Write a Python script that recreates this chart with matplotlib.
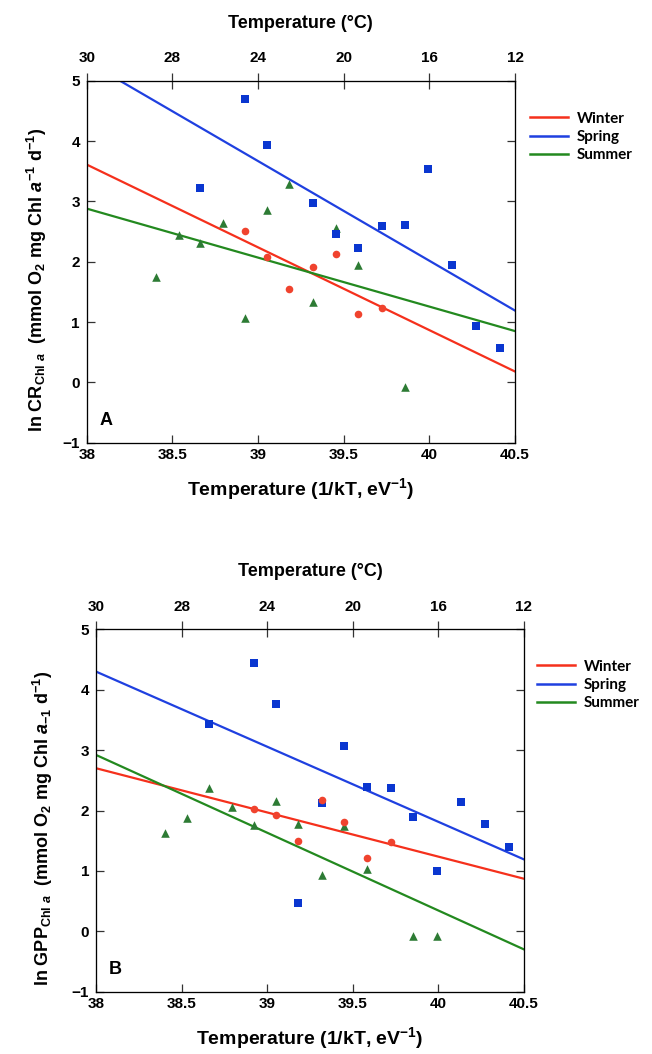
import matplotlib
matplotlib.use('Agg')
import matplotlib.pyplot as plt
from matplotlib.lines import Line2D

plt.rcParams['font.family'] = ['Liberation Sans', 'DejaVu Sans']
plt.rcParams['font.weight'] = 'bold'
plt.rcParams['axes.labelweight'] = 'bold'
plt.rcParams['mathtext.fontset'] = 'custom'
plt.rcParams['mathtext.rm'] = 'Liberation Sans:bold'
plt.rcParams['mathtext.it'] = 'Liberation Sans:italic:bold'
plt.rcParams['mathtext.bf'] = 'Liberation Sans:bold'

# ---- data ----
x_ticks = [38, 38.5, 39, 39.5, 40, 40.5]
x_tick_labels = ['38', '38.5', '39', '39.5', '40', '40.5']
temp_tick_labels = ['30', '28', '24', '20', '16', '12']
y_ticks = [-1, 0, 1, 2, 3, 4, 5]

# panel A (CR)
a_spring_x = [38.924, 39.051, 38.661, 39.323, 39.453, 39.586, 39.724, 39.856, 39.994, 40.132, 40.272, 40.412]
a_spring_y = [4.70, 3.93, 3.22, 2.98, 2.46, 2.22, 2.59, 2.61, 3.54, 1.95, 0.94, 0.57]
a_winter_x = [38.924, 39.051, 39.323, 39.453, 39.183, 39.586, 39.724]
a_winter_y = [2.51, 2.08, 1.91, 2.12, 1.55, 1.13, 1.24]
a_summer_x = [38.405, 38.537, 38.661, 38.794, 38.924, 39.051, 39.183, 39.323, 39.453, 39.586, 39.856]
a_summer_y = [1.74, 2.44, 2.31, 2.64, 1.06, 2.86, 3.29, 1.34, 2.56, 1.95, -0.08]
a_fit_x = [38.0, 40.5]
a_winter_fit = [3.61, 0.18]
a_spring_fit = [5.32, 1.19]
a_summer_fit = [2.88, 0.85]

# panel B (GPP)
b_spring_x = [38.922, 39.049, 38.661, 39.451, 39.321, 39.181, 39.584, 39.722, 39.852, 39.992, 40.132, 40.270, 40.410]
b_spring_y = [4.45, 3.76, 3.43, 3.07, 2.12, 0.47, 2.39, 2.38, 1.89, 1.00, 2.14, 1.77, 1.40]
b_winter_x = [38.922, 39.049, 39.181, 39.321, 39.451, 39.584, 39.722]
b_winter_y = [2.02, 1.93, 1.50, 2.18, 1.81, 1.22, 1.48]
b_summer_x = [38.405, 38.533, 38.661, 38.792, 38.922, 39.049, 39.181, 39.321, 39.451, 39.584, 39.852, 39.992]
b_summer_y = [1.63, 1.87, 2.38, 2.06, 1.76, 2.16, 1.77, 0.94, 1.74, 1.03, -0.07, -0.07]
b_fit_x = [38.0, 40.5]
b_winter_fit = [2.70, 0.87]
b_spring_fit = [4.30, 1.19]
b_summer_fit = [2.92, -0.30]

red_line, blue_line, green_line = '#f5301c', '#1f40e0', '#23891f'
red_pt, blue_pt, green_pt = '#f0432e', '#0a36d0', '#2d7b34'

W, H = 652, 1054
fig = plt.figure(figsize=(W / 100, H / 100), dpi=100)


def make_panel(rect, data, ylabel, letter, legend_xy, ylab_xy):
    ax = fig.add_axes(rect)
    (sx, sy, wx, wy, mx, my, fx, wfit, sfit, mfit) = data
    ax.plot(fx, wfit, color=red_line, lw=1.6, zorder=2)
    ax.plot(fx, sfit, color=blue_line, lw=1.6, zorder=2)
    ax.plot(fx, mfit, color=green_line, lw=1.6, zorder=2)
    ax.scatter(mx, my, marker='^', s=38, color=green_pt, lw=0, zorder=3)
    ax.scatter(sx, sy, marker='s', s=36, color=blue_pt, lw=0, zorder=4)
    ax.scatter(wx, wy, marker='o', s=30, color=red_pt, lw=0, zorder=5)
    ax.set_xlim(38, 40.5)
    ax.set_ylim(-1, 5)
    ax.set_xticks(x_ticks)
    ax.set_xticklabels(x_tick_labels)
    ax.set_yticks(y_ticks)
    ax.tick_params(axis='both', direction='in', length=6, width=0.9, colors='#333333',
                   labelcolor='black', labelsize=11, pad=5, right=True)
    ax.tick_params(axis='x', pad=4)
    for s in ax.spines.values():
        s.set_color('#333333')
        s.set_linewidth(0.9)
    ax.set_xlabel(r'Temperature (1/kT, eV$^{-1}$)', fontsize=14, labelpad=10)
    ax.set_ylabel(ylabel, fontsize=13)
    ax.yaxis.set_label_coords(*ylab_xy)
    ax.text(0.03, 0.05, letter, transform=ax.transAxes, fontsize=13, fontweight='bold')

    top = ax.twiny()
    top.set_xlim(ax.get_xlim())
    top.set_xticks(x_ticks)
    top.set_xticklabels(temp_tick_labels)
    top.tick_params(axis='x', direction='inout', length=12, width=0.9, colors='#333333',
                    labelcolor='black', labelsize=11, pad=5)
    top.set_xlabel('Temperature (°C)', fontsize=13, labelpad=17)

    handles = [Line2D([], [], color=red_line, lw=1.8),
               Line2D([], [], color=blue_line, lw=1.8),
               Line2D([], [], color=green_line, lw=1.8)]
    fig.legend(handles, ['Winter', 'Spring', 'Summer'], loc='upper left',
               bbox_to_anchor=legend_xy, frameon=False, handlelength=2.5,
               handletextpad=0.6, labelspacing=0.28, borderpad=0.2,
               prop={'family': 'Lato', 'weight': 'bold', 'size': 11})
    return ax


rect_a = [86.7 / W, 1 - 442.7 / H, 428.3 / W, 362 / H]
rect_b = [96 / W, 1 - 991.7 / H, 428 / W, 362.4 / H]

make_panel(rect_a,
           (a_spring_x, a_spring_y, a_winter_x, a_winter_y, a_summer_x, a_summer_y,
            a_fit_x, a_winter_fit, a_spring_fit, a_summer_fit),
           r'ln CR$_{\mathregular{Chl}\ \mathit{a}}$  (mmol O$_2$ mg Chl $\mathit{a}^{-1}$ d$^{-1}$)',
           'A', (519 / W, 1 - 101 / H), (-0.088, 0.45))
make_panel(rect_b,
           (b_spring_x, b_spring_y, b_winter_x, b_winter_y, b_summer_x, b_summer_y,
            b_fit_x, b_winter_fit, b_spring_fit, b_summer_fit),
           r'ln GPP$_{\mathregular{Chl}\ \mathit{a}}$  (mmol O$_2$ mg Chl $\mathit{a}_{-1}$ d$^{-1}$)',
           'B', (526 / W, 1 - 649 / H), (-0.095, 0.45))

fig.savefig('out.png', dpi=100)
